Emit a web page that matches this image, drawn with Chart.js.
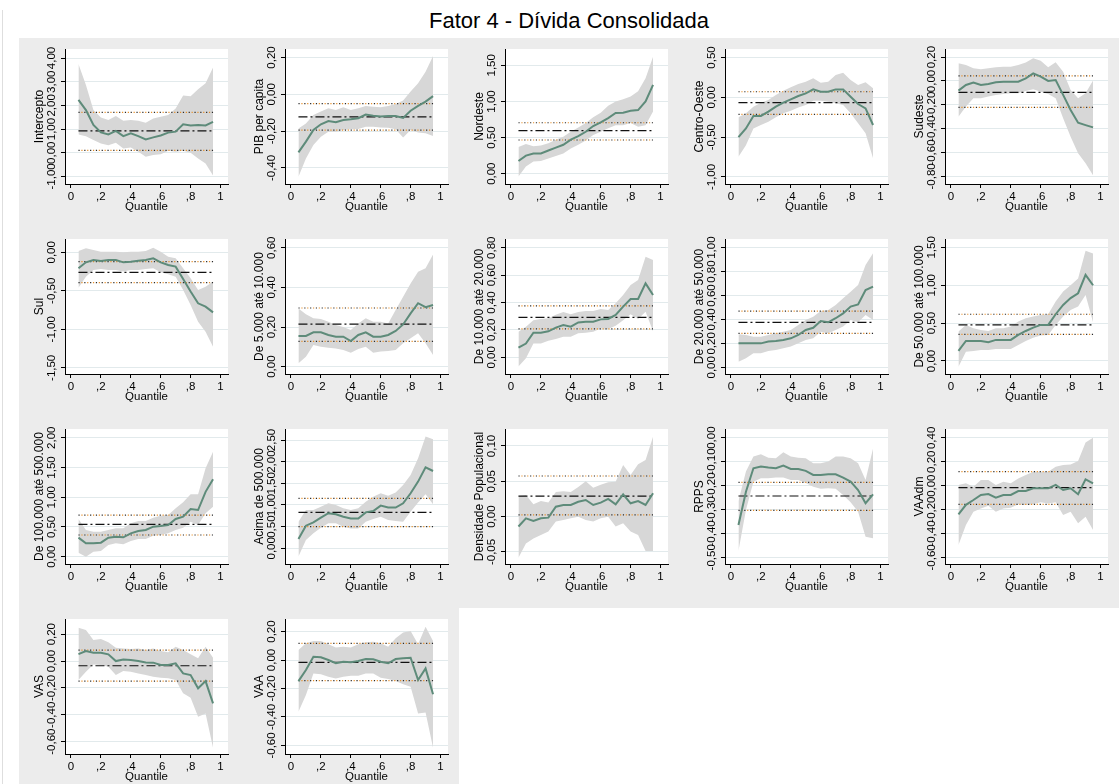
<!DOCTYPE html>
<html lang="pt-BR">
<head>
<meta charset="utf-8">
<title>Fator 4 - Dívida Consolidada</title>
<script src="https://cdn.jsdelivr.net/npm/chart.js@4.4.1/dist/chart.umd.min.js"></script>
<style>
  html, body { margin: 0; padding: 0; background: #fff; overflow: hidden; }
  body { width: 1120px; height: 784px; position: relative; font-family: "Liberation Sans", Arial, sans-serif; }
  #title { position: absolute; left: 19px; width: 1100px; top: 7px; text-align: center; font-size: 22px; line-height: 28px; color: #000; }
  #edge { position: absolute; left: 2px; top: 10px; width: 1px; height: 774px; background: #dedede; }
  .panel { position: absolute; width: 220px; height: 190px; background: #ececec; }
  .panel canvas { display: block; }
</style>
</head>
<body>
<div id="edge"></div>
<div id="title">Fator 4 - Dívida Consolidada</div>
<script>
// quantiles estimated (0.05 .. 0.95)
const quantiles = [0.05, 0.10, 0.15, 0.20, 0.25, 0.30, 0.35, 0.40, 0.45, 0.50,
                   0.55, 0.60, 0.65, 0.70, 0.75, 0.80, 0.85, 0.90, 0.95];
const xTickValues = [0, 0.2, 0.4, 0.6, 0.8, 1];
const xTickLabels = ['0', ',2', ',4', ',6', ',8', '1'];

// each panel: quantile coefficient, CI low/high, and OLS [coef, low, high]
const interceptoQr = [2.23, 1.80, 1.17, 0.86, 0.77, 0.92, 0.70, 0.82, 0.70, 0.56, 0.65, 0.73, 0.85, 0.89, 1.20, 1.15, 1.17, 1.15, 1.30];
const interceptoHi = [3.75, 2.86, 1.80, 1.49, 1.38, 1.55, 1.35, 1.38, 1.35, 1.27, 1.45, 1.52, 1.59, 1.87, 2.42, 2.39, 2.68, 2.93, 3.60];
const interceptoLo = [0.77, 0.70, 0.54, 0.39, 0.32, 0.42, 0.18, 0.22, 0.04, -0.17, -0.10, -0.06, 0.08, 0.04, 0.08, 0.00, -0.24, -0.45, -0.96];
const interceptoOls = [0.92, 0.10, 1.70];
const interceptoTicks = [-1, 0, 1, 2, 3, 4];

const pibQr = [-0.315, -0.257, -0.194, -0.163, -0.145, -0.152, -0.140, -0.136, -0.130, -0.110, -0.116, -0.120, -0.118, -0.118, -0.128, -0.089, -0.063, -0.040, -0.010];
const pibHi = [-0.185, -0.158, -0.112, -0.094, -0.076, -0.085, -0.070, -0.085, -0.076, -0.063, -0.067, -0.070, -0.063, -0.053, -0.034, 0.015, 0.060, 0.123, 0.208];
const pibLo = [-0.447, -0.348, -0.275, -0.230, -0.203, -0.203, -0.194, -0.190, -0.188, -0.176, -0.176, -0.180, -0.181, -0.190, -0.234, -0.194, -0.208, -0.212, -0.226];
const pibOls = [-0.123, -0.194, -0.051];
const pibTicks = [-0.4, -0.2, 0, 0.2];

const nordesteQr = [0.175, 0.25, 0.28, 0.28, 0.32, 0.36, 0.40, 0.47, 0.52, 0.58, 0.66, 0.71, 0.77, 0.84, 0.845, 0.87, 0.88, 1.00, 1.23];
const nordesteHi = [0.37, 0.41, 0.38, 0.39, 0.42, 0.47, 0.51, 0.58, 0.64, 0.70, 0.78, 0.845, 0.94, 1.00, 1.03, 1.07, 1.14, 1.32, 1.62];
const nordesteLo = [-0.04, 0.10, 0.17, 0.175, 0.21, 0.245, 0.28, 0.35, 0.40, 0.46, 0.535, 0.58, 0.63, 0.67, 0.67, 0.70, 0.65, 0.67, 0.86];
const nordesteOls = [0.595, 0.466, 0.705];
const nordesteTicks = [0, 0.5, 1, 1.5];

const centroQr = [-0.50, -0.39, -0.234, -0.234, -0.18, -0.117, -0.067, -0.025, 0.017, 0.05, 0.10, 0.07, 0.07, 0.10, 0.10, 0.008, -0.084, -0.138, -0.347];
const centroHi = [-0.25, -0.20, -0.117, -0.067, -0.033, 0.03, 0.084, 0.126, 0.167, 0.197, 0.24, 0.184, 0.197, 0.28, 0.31, 0.218, 0.155, 0.188, 0.113];
const centroLo = [-0.745, -0.60, -0.39, -0.347, -0.305, -0.25, -0.20, -0.167, -0.126, -0.096, -0.042, -0.042, -0.054, -0.075, -0.096, -0.20, -0.326, -0.45, -0.766];
const centroOls = [-0.067, -0.213, 0.07];
const centroTicks = [-1, -0.5, 0, 0.5];

const sudesteQr = [-0.081, -0.034, -0.014, -0.034, -0.025, -0.011, -0.006, -0.006, -0.006, 0.022, 0.064, 0.036, 0.0, 0.008, -0.117, -0.243, -0.35, -0.37, -0.389];
const sudesteHi = [0.148, 0.134, 0.106, 0.098, 0.106, 0.115, 0.12, 0.12, 0.134, 0.154, 0.19, 0.17, 0.115, 0.157, 0.078, -0.075, -0.145, -0.103, 0.003];
const sudesteLo = [-0.30, -0.215, -0.145, -0.145, -0.131, -0.117, -0.109, -0.103, -0.103, -0.084, -0.07, -0.09, -0.109, -0.145, -0.313, -0.467, -0.607, -0.69, -0.79];
const sudesteOls = [-0.095, -0.221, 0.042];
const sudesteTicks = [-0.8, -0.6, -0.4, -0.2, 0, 0.2];

const sulQr = [-0.208, -0.13, -0.10, -0.113, -0.10, -0.10, -0.13, -0.121, -0.108, -0.10, -0.078, -0.13, -0.165, -0.186, -0.346, -0.51, -0.662, -0.706, -0.78];
const sulHi = [0.017, 0.052, 0.03, 0.009, 0.009, 0.009, 0.0, 0.009, 0.009, 0.017, 0.06, 0.009, -0.056, -0.078, -0.208, -0.338, -0.49, -0.446, -0.38];
const sulLo = [-0.459, -0.316, -0.23, -0.216, -0.23, -0.23, -0.25, -0.23, -0.23, -0.216, -0.208, -0.26, -0.286, -0.316, -0.49, -0.684, -0.90, -1.03, -1.225];
const sulOls = [-0.26, -0.394, -0.121];
const sulTicks = [-1.5, -1, -0.5, 0];

const pop5kQr = [0.155, 0.155, 0.173, 0.173, 0.16, 0.151, 0.151, 0.129, 0.16, 0.173, 0.151, 0.151, 0.16, 0.18, 0.213, 0.269, 0.32, 0.30, 0.311];
const pop5kHi = [0.294, 0.264, 0.244, 0.24, 0.227, 0.21, 0.20, 0.185, 0.218, 0.244, 0.227, 0.227, 0.218, 0.286, 0.353, 0.42, 0.479, 0.496, 0.566];
const pop5kLo = [0.017, 0.05, 0.109, 0.10, 0.096, 0.092, 0.084, 0.07, 0.089, 0.10, 0.07, 0.076, 0.079, 0.084, 0.118, 0.143, 0.168, 0.118, 0.059];
const pop5kOls = [0.215, 0.128, 0.296];
const pop5kTicks = [0, 0.2, 0.4, 0.6];

const pop10kQr = [0.07, 0.10, 0.18, 0.18, 0.19, 0.217, 0.236, 0.224, 0.255, 0.26, 0.26, 0.277, 0.28, 0.31, 0.37, 0.426, 0.426, 0.54, 0.455];
const pop10kHi = [0.187, 0.224, 0.27, 0.28, 0.285, 0.31, 0.33, 0.314, 0.33, 0.338, 0.338, 0.353, 0.345, 0.394, 0.455, 0.528, 0.565, 0.735, 0.71];
const pop10kLo = [-0.068, -0.007, 0.10, 0.10, 0.12, 0.134, 0.15, 0.15, 0.175, 0.18, 0.187, 0.21, 0.207, 0.23, 0.27, 0.314, 0.28, 0.333, 0.19];
const pop10kOls = [0.292, 0.207, 0.375];
const pop10kTicks = [0, 0.2, 0.4, 0.6, 0.8];

const pop20kQr = [0.20, 0.20, 0.20, 0.20, 0.215, 0.22, 0.228, 0.242, 0.27, 0.312, 0.33, 0.387, 0.376, 0.41, 0.45, 0.507, 0.526, 0.646, 0.674];
const pop20kHi = [0.276, 0.27, 0.256, 0.256, 0.27, 0.284, 0.298, 0.312, 0.354, 0.396, 0.423, 0.47, 0.479, 0.52, 0.577, 0.632, 0.688, 0.855, 0.953];
const pop20kLo = [0.047, 0.075, 0.117, 0.117, 0.136, 0.145, 0.159, 0.173, 0.20, 0.228, 0.242, 0.298, 0.284, 0.312, 0.34, 0.396, 0.376, 0.437, 0.396];
const pop20kOls = [0.376, 0.284, 0.47];
const pop20kTicks = [0, 0.2, 0.4, 0.6, 0.8, 1];

const pop50kQr = [0.132, 0.264, 0.264, 0.264, 0.247, 0.278, 0.278, 0.278, 0.344, 0.396, 0.44, 0.476, 0.476, 0.617, 0.74, 0.83, 0.894, 1.137, 1.0];
const pop50kHi = [0.388, 0.476, 0.432, 0.41, 0.396, 0.432, 0.432, 0.454, 0.52, 0.564, 0.586, 0.608, 0.617, 0.784, 0.916, 1.0, 1.09, 1.454, 1.42];
const pop50kLo = [-0.075, 0.123, 0.132, 0.145, 0.145, 0.159, 0.159, 0.159, 0.211, 0.264, 0.308, 0.335, 0.344, 0.476, 0.586, 0.674, 0.718, 0.872, 0.511];
const pop50kOls = [0.476, 0.352, 0.617];
const pop50kTicks = [0, 0.5, 1, 1.5];

const pop100kQr = [0.32, 0.224, 0.224, 0.235, 0.32, 0.336, 0.325, 0.392, 0.43, 0.448, 0.504, 0.515, 0.532, 0.633, 0.672, 0.80, 0.784, 1.09, 1.30];
const pop100kHi = [0.633, 0.448, 0.42, 0.42, 0.448, 0.476, 0.476, 0.56, 0.60, 0.60, 0.655, 0.69, 0.70, 0.812, 0.913, 1.048, 1.048, 1.485, 1.765];
const pop100kLo = [0.067, 0.0, 0.084, 0.095, 0.196, 0.224, 0.207, 0.263, 0.297, 0.297, 0.353, 0.364, 0.392, 0.448, 0.487, 0.588, 0.532, 0.728, 0.84];
const pop100kOls = [0.543, 0.364, 0.70];
const pop100kTicks = [0, 0.5, 1, 1.5, 2];

const pop500kQr = [0.215, 0.523, 0.60, 0.708, 0.81, 0.785, 0.73, 0.69, 0.69, 0.83, 0.86, 0.985, 0.94, 0.94, 1.04, 1.27, 1.54, 1.87, 1.785];
const pop500kHi = [0.615, 0.885, 0.885, 0.96, 1.04, 1.0, 0.923, 0.885, 0.923, 1.077, 1.19, 1.27, 1.215, 1.29, 1.46, 1.69, 2.08, 2.58, 2.52];
const pop500kLo = [-0.19, 0.19, 0.346, 0.477, 0.577, 0.577, 0.50, 0.46, 0.46, 0.615, 0.677, 0.73, 0.654, 0.63, 0.615, 0.846, 1.06, 1.246, 1.015];
const pop500kOls = [0.83, 0.50, 1.154];
const pop500kTicks = [0, 0.5, 1, 1.5, 2, 2.5];

const densQr = [-0.014, -0.0024, -0.006, -0.0024, -0.0014, 0.014, 0.0165, 0.0165, 0.021, 0.0236, 0.0165, 0.0198, 0.025, 0.0175, 0.0316, 0.0189, 0.022, 0.0165, 0.033];
const densHi = [0.029, 0.0307, 0.0175, 0.022, 0.02, 0.035, 0.036, 0.035, 0.042, 0.050, 0.041, 0.045, 0.0486, 0.0495, 0.073, 0.059, 0.074, 0.08, 0.113];
const densLo = [-0.058, -0.038, -0.031, -0.026, -0.021, -0.007, -0.0047, -0.0024, 0.0, -0.0047, -0.007, -0.0024, 0.0, -0.014, -0.0094, -0.021, -0.026, -0.0486, -0.0486];
const densOls = [0.029, 0.0024, 0.0575];
const densTicks = [-0.05, 0, 0.05, 0.1];

const rppsQr = [-0.365, -0.226, -0.128, -0.121, -0.125, -0.128, -0.117, -0.131, -0.131, -0.139, -0.156, -0.156, -0.153, -0.153, -0.167, -0.184, -0.219, -0.274, -0.237];
const rppsHi = [-0.265, -0.142, -0.079, -0.07, -0.084, -0.086, -0.061, -0.079, -0.084, -0.086, -0.107, -0.107, -0.10, -0.079, -0.079, -0.086, -0.107, -0.177, -0.045];
const rppsLo = [-0.474, -0.302, -0.184, -0.17, -0.17, -0.167, -0.167, -0.177, -0.177, -0.19, -0.205, -0.214, -0.212, -0.214, -0.24, -0.27, -0.31, -0.414, -0.42];
const rppsOls = [-0.244, -0.304, -0.187];
const rppsTicks = [-0.5, -0.4, -0.3, -0.2, -0.1, 0];

const vaadmQr = [-0.24, -0.16, -0.12, -0.078, -0.07, -0.10, -0.078, -0.078, -0.045, -0.045, -0.022, -0.022, -0.022, 0.006, -0.036, -0.022, -0.072, 0.053, 0.02];
const vaadmHi = [0.006, 0.02, -0.008, 0.047, 0.047, 0.006, 0.033, 0.02, 0.061, 0.089, 0.117, 0.117, 0.117, 0.159, 0.173, 0.178, 0.206, 0.362, 0.40];
const vaadmLo = [-0.496, -0.329, -0.217, -0.19, -0.167, -0.217, -0.19, -0.184, -0.156, -0.162, -0.156, -0.139, -0.148, -0.139, -0.245, -0.217, -0.315, -0.26, -0.37];
const vaadmOls = [-0.017, -0.156, 0.117];
const vaadmTicks = [-0.6, -0.4, -0.2, 0, 0.2, 0.4];

const vasQr = [0.052, 0.074, 0.062, 0.062, 0.05, 0.0, 0.012, 0.007, 0.0, -0.01, -0.012, -0.03, -0.03, -0.017, -0.092, -0.104, -0.203, -0.149, -0.315];
const vasHi = [0.248, 0.231, 0.156, 0.164, 0.139, 0.099, 0.094, 0.089, 0.094, 0.082, 0.094, 0.074, 0.065, 0.107, 0.082, 0.05, 0.02, 0.107, 0.025];
const vasLo = [-0.141, -0.079, -0.025, -0.03, -0.042, -0.104, -0.074, -0.079, -0.092, -0.104, -0.117, -0.124, -0.129, -0.141, -0.24, -0.273, -0.414, -0.39, -0.645];
const vasOls = [-0.035, -0.149, 0.082];
const vasTicks = [-0.6, -0.4, -0.2, 0, 0.2];

const vaaQr = [-0.148, -0.07, 0.023, 0.019, 0.0, -0.023, -0.012, -0.016, -0.007, 0.007, 0.005, -0.012, -0.023, 0.007, 0.012, 0.016, -0.14, -0.059, -0.241];
const vaaHi = [0.07, 0.117, 0.133, 0.133, 0.11, 0.087, 0.094, 0.087, 0.11, 0.124, 0.129, 0.117, 0.094, 0.152, 0.194, 0.204, 0.11, 0.234, 0.133];
const vaaLo = [-0.363, -0.246, -0.094, -0.10, -0.117, -0.129, -0.117, -0.11, -0.11, -0.094, -0.094, -0.124, -0.133, -0.148, -0.171, -0.187, -0.375, -0.368, -0.616];
const vaaOls = [-0.016, -0.145, 0.117];
const vaaTicks = [-0.6, -0.4, -0.2, 0, 0.2];

const panels = [
    { title: 'Intercepto', qr: interceptoQr, lo: interceptoLo, hi: interceptoHi, ols: interceptoOls, ticks: interceptoTicks, range: [-1.32, 4.38] },
    { title: 'PIB per capita', qr: pibQr, lo: pibLo, hi: pibHi, ols: pibOls, ticks: pibTicks, range: [-0.487, 0.246] },
    { title: 'Nordeste', qr: nordesteQr, lo: nordesteLo, hi: nordesteHi, ols: nordesteOls, ticks: nordesteTicks, range: [-0.143, 1.726] },
    { title: 'Centro-Oeste', qr: centroQr, lo: centroLo, hi: centroHi, ols: centroOls, ticks: centroTicks, range: [-1.088, 0.607] },
    { title: 'Sudeste', qr: sudesteQr, lo: sudesteLo, hi: sudesteHi, ols: sudesteOls, ticks: sudesteTicks, range: [-0.864, 0.268] },
    { title: 'Sul', qr: sulQr, lo: sulLo, hi: sulHi, ols: sulOls, ticks: sulTicks, range: [-1.58, 0.173] },
    { title: 'De 5.000 até 10.000', qr: pop5kQr, lo: pop5kLo, hi: pop5kHi, ols: pop5kOls, ticks: pop5kTicks, range: [-0.037, 0.644] },
    { title: 'De 10.000 até 20.000', qr: pop10kQr, lo: pop10kLo, hi: pop10kHi, ols: pop10kOls, ticks: pop10kTicks, range: [-0.122, 0.864] },
    { title: 'De 20.000 até 50.000', qr: pop20kQr, lo: pop20kLo, hi: pop20kHi, ols: pop20kOls, ticks: pop20kTicks, range: [-0.056, 1.072] },
    { title: 'De 50.000 até 100.000', qr: pop50kQr, lo: pop50kLo, hi: pop50kHi, ols: pop50kOls, ticks: pop50kTicks, range: [-0.172, 1.61] },
    { title: 'De 100.000 até 500.000', qr: pop100kQr, lo: pop100kLo, hi: pop100kHi, ols: pop100kOls, ticks: pop100kTicks, range: [-0.123, 2.146] },
    { title: 'Acima de 500.000', qr: pop500kQr, lo: pop500kLo, hi: pop500kHi, ols: pop500kOls, ticks: pop500kTicks, range: [-0.362, 2.754] },
    { title: 'Densidade Populacional', qr: densQr, lo: densLo, hi: densHi, ols: densOls, ticks: densTicks, range: [-0.067, 0.124] },
    { title: 'RPPS', qr: rppsQr, lo: rppsLo, hi: rppsHi, ols: rppsOls, ticks: rppsTicks, range: [-0.528, 0.036] },
    { title: 'VAAdm', qr: vaadmQr, lo: vaadmLo, hi: vaadmHi, ols: vaadmOls, ticks: vaadmTicks, range: [-0.655, 0.474] },
    { title: 'VAS', qr: vasQr, lo: vasLo, hi: vasHi, ols: vasOls, ticks: vasTicks, range: [-0.692, 0.313] },
    { title: 'VAA', qr: vaaQr, lo: vaaLo, hi: vaaHi, ols: vaaOls, ticks: vaaTicks, range: [-0.66, 0.288] }
];

const FONT = '"Liberation Sans", Arial, sans-serif';
const fmtComma = v => v.toFixed(2).replace('.', ',');

// white plot region on the grey panel
const plotBackground = {
    id: 'plotBackground',
    beforeDraw(chart) {
        const { ctx, chartArea: a } = chart;
        ctx.save();
        ctx.fillStyle = '#fff';
        ctx.fillRect(a.left, a.top, a.right - a.left, a.bottom - a.top);
        ctx.restore();
    }
};

// y tick labels rotated like stata (reading bottom-up, centred on the tick)
const yTickLabels = {
    id: 'yTickLabels',
    afterDraw(chart) {
        const s = chart.scales.y;
        const ctx = chart.ctx;
        ctx.save();
        ctx.font = '11.5px ' + FONT;
        ctx.fillStyle = '#000';
        ctx.textAlign = 'center';
        ctx.textBaseline = 'middle';
        s.ticks.forEach(t => {
            ctx.save();
            ctx.translate(s.right - 13, s.getPixelForValue(t.value));
            ctx.rotate(-Math.PI / 2);
            ctx.fillText(fmtComma(t.value), 0, 0);
            ctx.restore();
        });
        ctx.restore();
    }
};

function buildPanel(p, index) {
    const col = index % 5;
    const row = Math.floor(index / 5);
    const box = document.createElement('div');
    box.className = 'panel';
    box.style.left = (19 + col * 220) + 'px';
    box.style.top = (38 + row * 190) + 'px';
    const canvas = document.createElement('canvas');
    canvas.width = 220;
    canvas.height = 190;
    box.appendChild(canvas);
    document.body.appendChild(box);

    const pts = arr => arr.map((y, i) => ({ x: quantiles[i], y: y }));
    const flat = y => [{ x: quantiles[0], y: y }, { x: quantiles[quantiles.length - 1], y: y }];
    const dotted = (y, color, offset) => ({
        data: flat(y), borderColor: color, borderWidth: 1.2,
        borderDash: [1.2, 4.6], borderDashOffset: offset, fill: false
    });

    new Chart(canvas, {
        type: 'line',
        data: {
            datasets: [
                { data: pts(p.qr), borderColor: '#5e8b7a', borderWidth: 2, fill: false },
                { data: flat(p.ols[0]), borderColor: '#111', borderWidth: 1.2, borderDash: [9, 3, 2, 3], fill: false },
                dotted(p.ols[2], '#2a2a2a', 0),
                dotted(p.ols[2], '#e8902a', 2.9),
                dotted(p.ols[1], '#2a2a2a', 0),
                dotted(p.ols[1], '#e8902a', 2.9),
                { data: pts(p.hi), borderWidth: 0, backgroundColor: '#d7d7d7', fill: '+1' },
                { data: pts(p.lo), borderWidth: 0, fill: false }
            ]
        },
        options: {
            responsive: false,
            animation: false,
            events: [],
            layout: { padding: { top: 11, right: 11, left: 0, bottom: 0 } },
            elements: { point: { radius: 0 }, line: { tension: 0 } },
            plugins: { legend: { display: false }, tooltip: { enabled: false } },
            scales: {
                x: {
                    type: 'linear',
                    min: -0.04,
                    max: 1.05,
                    afterBuildTicks: s => { s.ticks = xTickValues.map(v => ({ value: v })); },
                    afterFit: s => { s.height = 44; },
                    grid: { drawOnChartArea: false, tickLength: 4, tickColor: '#000' },
                    border: { color: '#000', width: 1 },
                    ticks: {
                        autoSkip: false, maxRotation: 0, padding: 2, color: '#000',
                        font: { family: FONT, size: 11.5 },
                        callback: (v, i) => xTickLabels[i]
                    },
                    title: {
                        display: true, text: 'Quantile', color: '#000',
                        font: { family: FONT, size: 11.5 },
                        padding: { top: 0, bottom: 14 }
                    }
                },
                y: {
                    type: 'linear',
                    min: p.range[0],
                    max: p.range[1],
                    afterBuildTicks: s => { s.ticks = p.ticks.map(v => ({ value: v })); },
                    afterFit: s => { s.width = 46; },
                    grid: { color: '#e2eaec', tickLength: 4, tickColor: '#000' },
                    border: { color: '#000', width: 1 },
                    ticks: { display: false },
                    title: {
                        display: true, text: p.title, color: '#000',
                        font: { family: FONT, size: 12 },
                        padding: { top: 13, bottom: 0 }
                    }
                }
            }
        },
        plugins: [plotBackground, yTickLabels]
    });
}

panels.forEach(buildPanel);
</script>
</body>
</html>
